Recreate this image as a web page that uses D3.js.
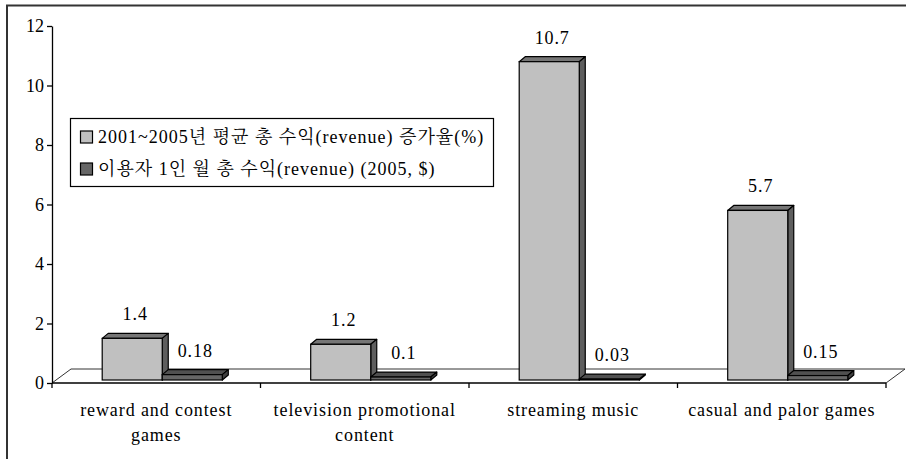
<!DOCTYPE html>
<html>
<head>
<meta charset="utf-8">
<script src="https://cdn.jsdelivr.net/npm/d3@7"></script>
<style>
  html, body { margin: 0; padding: 0; background: #fff; }
  svg { display: block; }
</style>
</head>
<body>
<svg id="chart" width="906" height="459"></svg>
<script>
// Categories (line breaks mark where the axis label wraps)
const categories = [
  "reward and contest\ngames",
  "television promotional\ncontent",
  "streaming music",
  "casual and palor games"
];
const seriesNames = [
  "2001~2005년 평균 총 수익(revenue) 증가율(%)",
  "이용자 1인 월 총 수익(revenue) (2005, $)"
];
const growthRate = [1.4, 1.2, 10.7, 5.7];
const revenuePerUser = [0.18, 0.1, 0.03, 0.15];
const yTicks = [0, 2, 4, 6, 8, 10, 12];

const seriesValues = [growthRate, revenuePerUser];
const faces = [
  { front: "#c0c0c0", top: "#767676", side: "#5e5e5e" },
  { front: "#666666", top: "#505050", side: "#404040" }
];
const FONT = '"Liberation Serif", "Noto Serif CJK KR", "Noto Sans CJK KR", serif';

const svg = d3.select("#chart");

// Outer frame
svg.append("path")
  .attr("d", "M7,459 V5.5 H906")
  .attr("fill", "none").attr("stroke", "#333").attr("stroke-width", 2);

const y = d3.scaleLinear().domain([0, 12]).range([383, 26]);
const x = d3.scaleBand().domain(categories).range([52, 886]).padding(0);
const bw = x.bandwidth() * 0.288;            // single bar width
const sub = d3.scaleBand().domain([0, 1]).range([-bw, bw]).padding(0);

// 3D offsets
const floorD = { dx: 19, dy: -14 };   // floor depth
const planeD = { dx: 6, dy: -3 };     // bar front plane within floor
const barD = { dx: 6, dy: -5 };       // bar depth

// Floor outline
const x0 = x.range()[0], x1 = x.range()[1], yb = y(0);
svg.append("path")
  .attr("d", `M${x0},${yb} L${x0 + floorD.dx},${yb + floorD.dy} H${x1 + floorD.dx} L${x1},${yb}`)
  .attr("fill", "none").attr("stroke", "#333").attr("stroke-width", 1);

// Y axis
const yAxis = svg.append("g")
  .attr("transform", `translate(${x0},0)`)
  .call(d3.axisLeft(y).tickValues(yTicks).tickFormat(d3.format("d")).tickSize(5).tickSizeOuter(0).tickPadding(3));
yAxis.attr("font-family", null).attr("font-size", null);
yAxis.selectAll("path, line").attr("stroke", "#000").attr("stroke-width", 1.3);
yAxis.selectAll("text")
  .style("font-family", FONT).style("font-size", "18px").attr("fill", "#000");

// X axis line with ticks at category boundaries
const xg = svg.append("g");
xg.append("line").attr("x1", x0).attr("x2", x1).attr("y1", yb).attr("y2", yb)
  .attr("stroke", "#000").attr("stroke-width", 1.3);
const bounds = categories.map(c => x(c)).concat([x1]);
xg.selectAll("line.tick").data(bounds).enter().append("line")
  .attr("class", "tick")
  .attr("x1", d => d).attr("x2", d => d).attr("y1", yb).attr("y2", yb + 5)
  .attr("stroke", "#000").attr("stroke-width", 1.3);

// Category labels
const lab = xg.selectAll("text.cat").data(categories).enter().append("text")
  .attr("class", "cat")
  .attr("x", d => x(d) + x.bandwidth() / 2)
  .attr("y", 416)
  .attr("text-anchor", "middle")
  .style("font-family", FONT)
  .style("font-size", "18px").style("letter-spacing", "0.9px");
lab.each(function (d) {
  const t = d3.select(this);
  d.split("\n").forEach((line, i) => {
    t.append("tspan").attr("x", x(d) + x.bandwidth() / 2).attr("dy", i === 0 ? 0 : 25).text(line);
  });
});

// Bars
const bars = [];
categories.forEach((c, ci) => {
  seriesValues.forEach((vals, si) => {
    bars.push({ c, si, v: vals[ci] });
  });
});

const barG = svg.append("g");
bars.forEach(b => {
  const left = x(b.c) + x.bandwidth() / 2 + sub(b.si) + planeD.dx;
  const right = left + bw;
  const bot = y(0) + planeD.dy;
  const top = y(b.v) + planeD.dy;
  const f = faces[b.si];
  const g = barG.append("g");
  g.append("path")
    .attr("d", `M${left},${top} L${left + barD.dx},${top + barD.dy} H${right + barD.dx} L${right},${top} Z`)
    .attr("fill", f.top).attr("stroke", "#000").attr("stroke-width", 1.2).attr("stroke-linejoin", "round");
  g.append("path")
    .attr("d", `M${right},${top} L${right + barD.dx},${top + barD.dy} V${bot + barD.dy} L${right},${bot} Z`)
    .attr("fill", f.side).attr("stroke", "#000").attr("stroke-width", 1.2).attr("stroke-linejoin", "round");
  g.append("rect")
    .attr("x", left).attr("y", top).attr("width", bw).attr("height", bot - top)
    .attr("fill", f.front).attr("stroke", "#000").attr("stroke-width", 1.2);
  g.append("text")
    .attr("x", left + bw / 2 + barD.dx / 2)
    .attr("y", top + barD.dy - 13)
    .attr("text-anchor", "middle")
    .style("font-family", FONT)
    .style("font-size", "18px").style("letter-spacing", "0.9px")
    .text(b.v);
});

// Legend
const leg = svg.append("g");
leg.append("rect").attr("x", 70.5).attr("y", 118.5).attr("width", 423).attr("height", 68)
  .attr("fill", "#fff").attr("stroke", "#000").attr("stroke-width", 1.2);
seriesNames.forEach((name, i) => {
  const cy = 137 + i * 32;
  leg.append("rect").attr("x", 80.5).attr("y", cy - 6).attr("width", 12).attr("height", 12)
    .attr("fill", faces[i].front).attr("stroke", "#000").attr("stroke-width", 1.2);
  leg.append("text").attr("x", 98).attr("y", cy + 6)
    .style("font-family", FONT)
    .style("font-size", "18px").style("letter-spacing", "1px")
    .text(name);
});
</script>
</body>
</html>
